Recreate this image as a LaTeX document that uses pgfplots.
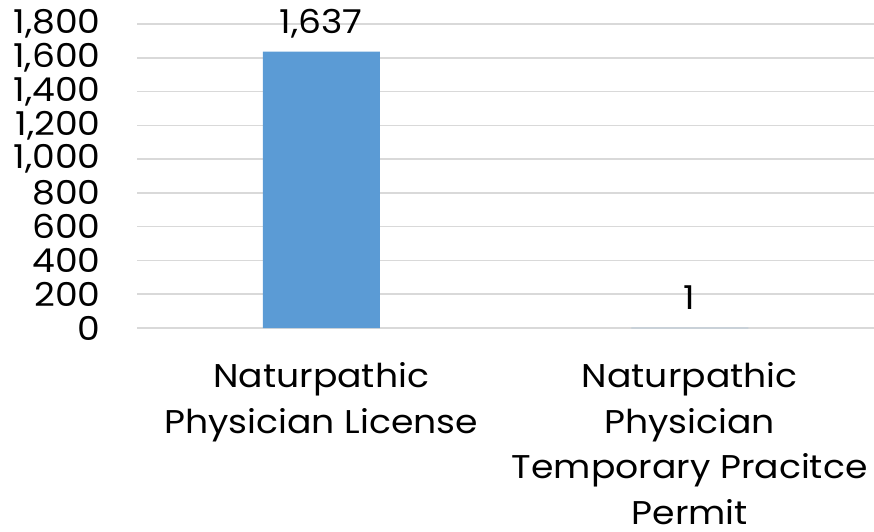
\documentclass[border=0pt]{standalone}
\usepackage{pgfplots}
\pgfplotsset{compat=1.18}
\usepackage{fontspec}
\setmainfont{Poppins}[FakeStretch=1.1]
\definecolor{barblue}{HTML}{5B9BD5}
\definecolor{gridgray}{HTML}{D9D9D9}
\begin{document}
\begin{tikzpicture}
\begin{axis}[
  at={(137bp,204bp)}, anchor=south west,
  scale only axis,
  width=737bp, height=304bp,
  xmin=-0.5, xmax=1.5,
  ymin=0, ymax=1800,
  ytick={0,200,...,1800},
  xtick=data,
  xticklabels={{Naturpathic\\Physician License},{Naturpathic\\Physician\\Temporary Pracitce\\Permit}},
  axis line style={draw=none},
  major tick length=0pt,
  ymajorgrids,
  grid style={gridgray, line width=1.5bp},
  /pgf/number format/assume math mode=true,
  /pgf/number format/1000 sep={,},
  yticklabel style={font=\fontsize{33}{33}\selectfont, anchor=east, xshift=-33bp},
  xticklabel style={font=\fontsize{33}{46}\selectfont, align=center, anchor=north, inner sep=1bp, yshift=-33bp},
  clip=false,
  ybar, bar width=117bp,
  nodes near coords,
  nodes near coords style={font=\fontsize{33}{33}\selectfont, anchor=base, yshift=18bp},
]
\addplot[fill=barblue, draw=none] coordinates {(0,1637) (1,1)};
\end{axis}
\pgfresetboundingbox
\path[use as bounding box] (0,0) rectangle (874bp,532bp);
\end{tikzpicture}
\end{document}
